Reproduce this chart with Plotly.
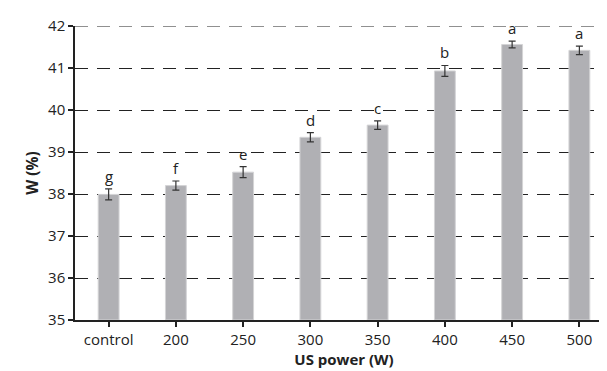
import plotly.graph_objects as go

categories = ["control", "200", "250", "300", "350", "400", "450", "500"]
values = [37.99, 38.2, 38.52, 39.35, 39.64, 40.93, 41.56, 41.42]
errors = [0.13, 0.11, 0.13, 0.11, 0.1, 0.13, 0.08, 0.1]
letters = ["g", "f", "e", "d", "c", "b", "a", "a"]
yticks = [35, 36, 37, 38, 39, 40, 41, 42]

font = "Open Sans"

fig = go.Figure()
fig.add_trace(go.Bar(
    x=categories, y=[v - 35 for v in values], base=35,
    width=0.31,
    marker=dict(color="#b0b0b4", line=dict(color="#d4d4d6", width=1)),
    error_y=dict(type="data", array=errors, visible=True, color="#333333",
                 thickness=1.2, width=3.5),
    showlegend=False,
))

for i, (v, e, l) in enumerate(zip(values, errors, letters)):
    fig.add_annotation(x=i, y=v + e, text=l, showarrow=False, yanchor="bottom",
                       yshift=1, font=dict(family=font, size=15, color="#222222"))

fig.add_shape(type="line", xref="paper", yref="paper", x0=1, x1=1, y0=0, y1=-0.018,
              line=dict(color="#222222", width=1.5))
fig.add_shape(type="line", xref="paper", yref="y", x0=0, x1=1, y0=42, y1=42,
              line=dict(color="#222222", width=1, dash="13px,9px"), layer="below")

fig.update_layout(
    width=607, height=371,
    margin=dict(l=67, r=2, t=18, b=59),
    plot_bgcolor="white", paper_bgcolor="white",
    font=dict(family=font, size=15, color="#222222"),
)
fig.update_xaxes(
    type="category",
    showline=True, linecolor="#222222", linewidth=1.5,
    ticks="outside", ticklen=5, tickcolor="#222222", tickwidth=1.5,
    tickfont=dict(family=font, size=15),
    title=dict(text="<b>US power (W)</b>", font=dict(family=font, size=15), standoff=4),
    range=[-0.5, 7.5],
)
fig.update_yaxes(
    range=[35, 42], tickvals=yticks,
    showline=True, linecolor="#222222", linewidth=1.5,
    ticks="outside", ticklen=5, tickcolor="#222222", tickwidth=1.5,
    showgrid=True, gridcolor="#222222", gridwidth=1, griddash="13px,9px",
    zeroline=False,
    tickfont=dict(family=font, size=15),
    title=dict(text="<b>W (%)</b>", font=dict(family=font, size=15.5), standoff=6),
)

fig.write_html("out.html")
